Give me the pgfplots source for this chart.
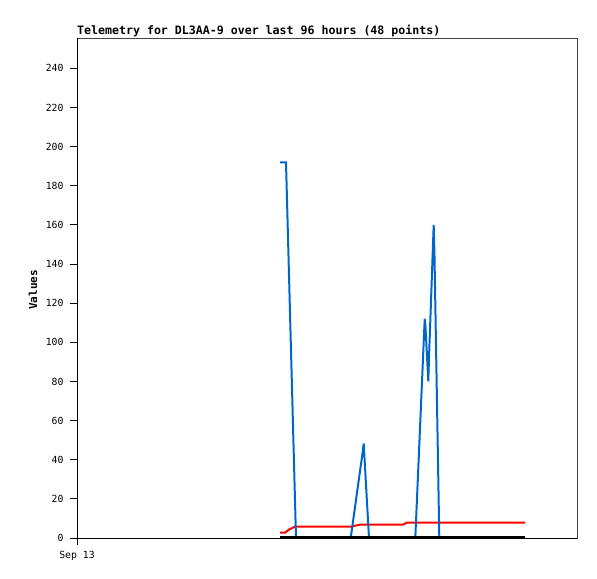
\documentclass[border=0pt]{standalone}
\usepackage{pgfplots}
\pgfplotsset{compat=1.18}
\usepackage{fontspec}
\setmonofont{DejaVu Sans Mono}
\definecolor{bluel}{RGB}{0,102,204}
\definecolor{redl}{RGB}{255,0,0}
\definecolor{frame}{RGB}{68,68,68}
\begin{document}
\begin{tikzpicture}
\useasboundingbox (0,0) rectangle (597bp,579bp);
\begin{axis}[
  at={(77bp,41bp)}, anchor=south west,
  scale only axis, width=500bp, height=500bp,
  xmin=0, xmax=500, ymin=0, ymax=255.5,
  axis line style={draw=frame, line width=0.8pt},
  clip=false,
  ytick={0,20,...,240},
  xtick={0}, xticklabels={Sep 13},
  tick align=outside,
  major tick length=7bp,
  tick style={black, line width=0.8pt},
  xtick pos=bottom, ytick pos=left,
  /pgf/number format/assume math mode=true,
  ticklabel style={font=\ttfamily\fontsize{9.8bp}{11bp}\selectfont},
  yticklabel style={xshift=-3bp},
  xticklabel style={yshift=-3bp},
  title={Telemetry for DL3AA-9 over last 96 hours (48 points)},
  title style={at={(0,1)}, anchor=south west, inner sep=0pt, yshift=-5pt,
    font=\ttfamily\bfseries\fontsize{11.6bp}{13bp}\selectfont},
  ylabel={Values},
  ylabel style={at={(-44bp,248bp)}, rotate=0, anchor=center,
    font=\ttfamily\bfseries\fontsize{11bp}{13bp}\selectfont},
]
\addplot[redl, line width=2pt] coordinates {
(203,2.7) (208,2.7) (212,4.3) (218,5.8) (275,5.8) (278,6.3) (283,6.8) (326,6.8) (329.7,7.8) (448,7.8)
};
\addplot[bluel, line width=2pt] coordinates {
(203,192) (209,192) (219,0) (273.7,0) (285.7,44) (286.7,48.3) (292,0) (338.3,0)
(347.7,112) (348.5,108) (351.3,80) (352,92) (356.7,160) (357.5,144) (362.3,0) (448,0)
};
\addplot[black, line width=1.5pt] coordinates {(203,0.5) (448,0.5)};
\draw[frame, line width=0.8pt] (rel axis cs:0,1) -- (rel axis cs:1,1) -- (rel axis cs:1,0);
\draw[black, line width=0.8pt] (rel axis cs:0,0) -- (rel axis cs:1,0);
\draw[black, line width=0.8pt] (rel axis cs:0,0) -- (rel axis cs:0,1);
\end{axis}
\end{tikzpicture}
\end{document}
